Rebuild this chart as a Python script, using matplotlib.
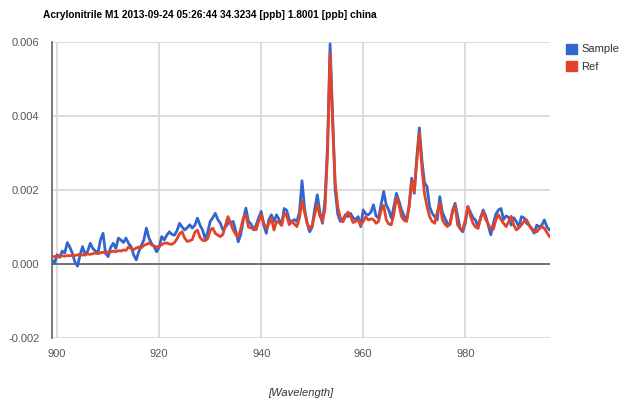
import numpy as np
import matplotlib
matplotlib.use("Agg")
import matplotlib.pyplot as plt
from matplotlib.patches import Patch

plt.rcParams['font.family'] = ['Liberation Sans', 'DejaVu Sans']

title = "Acrylonitrile M1 2013-09-24 05:26:44 34.3234 [ppb] 1.8001 [ppb] china"
series_names = ["Sample", "Ref"]
x_ticks = [900, 920, 940, 960, 980]
y_ticks = [-0.002, 0.000, 0.002, 0.004, 0.006]
x_label = "[Wavelength]"

# wavelength grid (0.5 nm sampling)
wl_start, wl_stop, wl_step = 899.0, 997.0, 0.5

# values in units of 1e-4
sample_e4 = [
    1.1, 0.2, 2.5, 1.8, 3.5, 3.0, 5.8, 4.5, 2.9, 0.5,
    -0.6, 2.5, 4.7, 2.4, 3.5, 5.6, 4.2, 3.5, 2.9, 6.5,
    8.3, 2.9, 2.0, 4.5, 5.6, 4.2, 7.0, 6.5, 5.8, 7.0,
    5.6, 4.7, 2.5, 1.1, 3.3, 5.0, 6.5, 9.7, 7.0, 5.6,
    4.7, 3.3, 4.5, 7.4, 6.5, 7.8, 8.7, 8.0, 7.8, 9.0,
    11.0, 10.0, 9.2, 9.8, 10.6, 9.7, 10.5, 12.4, 10.5, 9.2,
    6.9, 8.5, 11.5, 12.5, 13.7, 12.0, 11.0, 9.2, 10.0, 11.0,
    11.2, 11.5, 9.0, 6.0, 8.0, 12.0, 15.1, 11.5, 10.8, 9.2,
    10.5, 12.5, 14.2, 10.5, 8.3, 12.0, 13.3, 11.5, 13.3, 12.0,
    10.6, 15.0, 14.5, 11.9, 11.5, 12.0, 11.5, 14.0, 22.5, 15.0,
    11.0, 8.7, 10.0, 15.0, 18.7, 14.0, 11.0, 17.3, 32.0, 59.5,
    40.0, 20.0, 13.5, 11.5, 12.0, 13.3, 12.8, 13.7, 12.5, 12.0,
    12.8, 10.1, 14.6, 13.5, 13.3, 14.0, 16.0, 13.0, 12.4, 16.0,
    19.6, 16.0, 14.6, 12.4, 15.5, 19.1, 17.0, 14.6, 13.0, 11.9,
    16.0, 23.2, 19.1, 29.0, 36.8, 28.0, 22.0, 20.9, 15.5, 13.7,
    12.8, 11.9, 18.2, 14.0, 12.4, 11.0, 10.6, 14.5, 16.4, 13.0,
    9.5, 8.7, 11.0, 15.5, 14.0, 12.5, 11.9, 10.0, 12.5, 14.6,
    13.0, 10.5, 7.9, 11.0, 13.5, 14.6, 15.0, 12.0, 13.0, 12.6,
    10.5, 12.5, 11.5, 10.0, 12.8, 12.5, 11.0, 10.5, 9.5, 8.3,
    10.5, 10.0, 10.5, 11.9, 10.0, 9.2, 9.5,
]

ref_e4 = [
    2.0, 2.0, 2.1, 2.1, 2.2, 2.1, 2.3, 2.2, 2.4, 2.3,
    2.5, 2.5, 2.4, 2.6, 2.7, 2.6, 2.8, 2.9, 2.8, 3.0,
    3.2, 3.0, 3.3, 3.2, 3.5, 3.3, 3.6, 3.5, 3.8, 3.7,
    4.6, 4.2, 3.9, 4.3, 4.6, 4.4, 5.0, 5.3, 5.7, 5.2,
    4.9, 4.6, 4.8, 5.2, 5.6, 5.7, 5.4, 5.3, 5.8, 6.8,
    8.2, 8.7, 7.0, 6.1, 6.3, 6.6, 8.6, 9.2, 7.2, 6.4,
    6.3, 6.8, 9.0, 9.7, 8.3, 7.8, 7.4, 8.0, 10.5, 12.8,
    11.0, 9.2, 8.0, 7.4, 9.5, 12.5, 13.3, 10.0, 9.7, 10.0,
    9.2, 11.5, 13.3, 11.0, 9.7, 10.8, 12.4, 9.2, 11.5, 11.2,
    10.4, 13.8, 13.0, 10.6, 11.5, 10.8, 10.1, 12.5, 17.0, 14.0,
    11.0, 9.5, 10.5, 13.5, 16.0, 13.0, 11.5, 15.0, 30.0, 57.0,
    38.0, 22.0, 15.5, 12.5, 11.4, 12.8, 14.0, 13.0, 11.2, 11.5,
    11.9, 10.6, 11.5, 12.8, 11.9, 12.2, 12.0, 11.0, 11.5, 14.5,
    15.8, 12.0, 10.8, 10.6, 13.5, 18.0, 16.0, 12.8, 11.8, 11.5,
    15.5, 22.5, 19.5, 28.0, 35.4, 26.0, 19.0, 15.5, 12.8, 11.5,
    11.0, 14.0, 16.5, 12.0, 10.8, 10.1, 11.0, 14.0, 15.8, 10.5,
    9.6, 9.2, 12.0, 15.5, 13.0, 11.0, 10.0, 9.6, 12.5, 14.2,
    12.0, 10.8, 9.5, 9.4, 12.0, 13.3, 12.0, 11.0, 10.1, 11.5,
    12.9, 10.5, 9.2, 9.8, 10.6, 11.5, 12.0, 10.5, 9.6, 9.0,
    8.7, 9.5, 10.1, 9.6, 8.5, 7.4, 7.0,
]

wl = wl_start + wl_step * np.arange(len(sample_e4))
sample = np.array(sample_e4) * 1e-4
ref = np.array(ref_e4) * 1e-4

W, H = 619, 404
fig = plt.figure(figsize=(W / 100, H / 100), dpi=100)
L, R, T, B = 52, 550, 42, 338
ax = fig.add_axes([L / W, 1 - B / H, (R - L) / W, (B - T) / H])

blue = '#3366cc'
red = '#e2442a'
grid_c = '#d6d6d6'

for xt in x_ticks:
    ax.axvline(xt, color=grid_c, lw=1.2, zorder=0)
for yt in y_ticks:
    ax.axhline(yt, color=grid_c, lw=1.2, zorder=0)
ax.axhline(0, color='#555555', lw=1.1, zorder=1)

ax.plot(wl, sample, color=blue, lw=2.0, zorder=3, solid_joinstyle='round')
ax.plot(wl, ref, color=red, lw=2.0, zorder=4, solid_joinstyle='round')

ax.set_xlim(899.0, 996.6)
ax.set_ylim(-0.002, 0.006)
ax.set_xticks(x_ticks)
ax.set_yticks(y_ticks)
ax.set_yticklabels([f"{v:.3f}" for v in y_ticks])
ax.tick_params(length=0, labelsize=8, colors='#555555')
ax.tick_params(axis='y', pad=9)
ax.tick_params(axis='x', pad=8)
for s in ['top', 'right', 'bottom']:
    ax.spines[s].set_visible(False)
ax.spines['left'].set_color('#555555')
ax.spines['left'].set_linewidth(1.1)

ax.set_xlabel(x_label, fontsize=8, style='italic', color='#333333', labelpad=21)

fig.text(43 / W, 1 - 15 / H, title, fontsize=7.3, fontweight='bold',
         ha='left', va='center', color='#000000')

handles = [Patch(facecolor=blue, edgecolor=blue), Patch(facecolor=red, edgecolor=red)]
fig.legend(handles, series_names, loc='upper left', bbox_to_anchor=(560 / W, 1 - 38 / H),
           frameon=False, fontsize=8, handlelength=1.0, handleheight=1.0,
           handletextpad=0.4, labelspacing=0.6, borderpad=0, labelcolor='#333333')

fig.savefig('out.png', dpi=100)
